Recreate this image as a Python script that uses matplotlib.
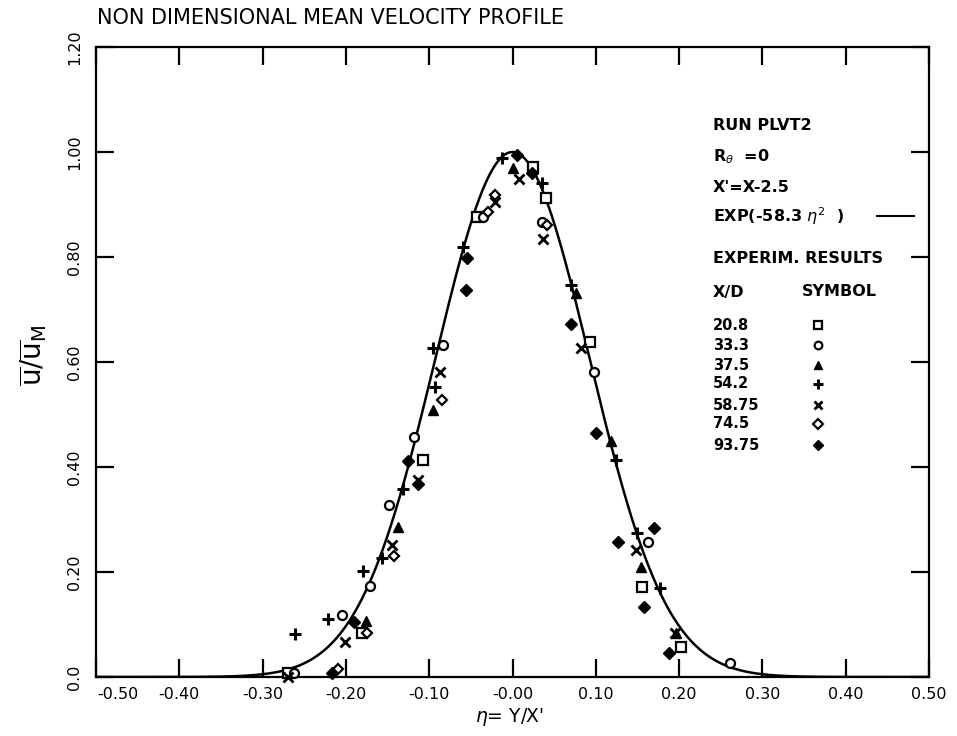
import numpy as np
import matplotlib
matplotlib.use("Agg")
import matplotlib.pyplot as plt
from matplotlib.lines import Line2D
from matplotlib.transforms import ScaledTranslation

# ---------------- data ----------------
title = "NON DIMENSIONAL MEAN VELOCITY PROFILE"
x_ticks = [-0.5, -0.4, -0.3, -0.2, -0.1, 0.0, 0.1, 0.2, 0.3, 0.4, 0.5]
x_ticklabels = ["-0.50", "-0.40", "-0.30", "-0.20", "-0.10", "-0.00",
                "0.10", "0.20", "0.30", "0.40", "0.50"]
y_ticks = [0.0, 0.2, 0.4, 0.6, 0.8, 1.0, 1.2]
y_ticklabels = ["0.0", "0.20", "0.40", "0.60", "0.80", "1.00", "1.20"]
gauss_coeff = 58.3

eta_208 = [-0.269, -0.181, -0.107, -0.043, 0.025, 0.040, 0.093, 0.155, 0.202]
u_208 = [0.008, 0.084, 0.413, 0.876, 0.971, 0.912, 0.638, 0.171, 0.057]

eta_333 = [-0.262, -0.205, -0.171, -0.148, -0.118, -0.083, -0.036, 0.035, 0.098, 0.163, 0.261]
u_333 = [0.008, 0.118, 0.173, 0.328, 0.457, 0.632, 0.876, 0.867, 0.581, 0.257, 0.027]

eta_375 = [-0.176, -0.138, -0.095, 0.000, 0.076, 0.118, 0.154, 0.196]
u_375 = [0.107, 0.286, 0.509, 0.970, 0.731, 0.450, 0.210, 0.084]

eta_542 = [-0.261, -0.221, -0.180, -0.157, -0.132, -0.093, -0.095, -0.060, -0.013,
           0.035, 0.070, 0.124, 0.149, 0.177]
u_542 = [0.082, 0.110, 0.202, 0.227, 0.358, 0.552, 0.627, 0.819, 0.989,
         0.941, 0.747, 0.413, 0.274, 0.170]

eta_5875 = [-0.269, -0.201, -0.145, -0.113, -0.087, -0.021, 0.008, 0.037, 0.082, 0.148, 0.195]
u_5875 = [0.000, 0.067, 0.251, 0.375, 0.581, 0.905, 0.949, 0.834, 0.627, 0.242, 0.084]

eta_745 = [-0.210, -0.175, -0.142, -0.085, -0.030, -0.021, 0.042]
u_745 = [0.015, 0.084, 0.230, 0.528, 0.886, 0.918, 0.861]

eta_9375 = [-0.217, -0.190, -0.126, -0.114, -0.055, -0.056, 0.006, 0.024, 0.070,
            0.100, 0.127, 0.158, 0.170, 0.188]
u_9375 = [0.008, 0.105, 0.411, 0.368, 0.798, 0.737, 0.994, 0.960, 0.672,
          0.465, 0.257, 0.133, 0.284, 0.046]

series_labels = ["20.8", "33.3", "37.5", "54.2", "58.75", "74.5", "93.75"]

# ---------------- styles ----------------
W, H = 957, 736
styles = [
    dict(marker="s", ms=6.5, mfc="white", mec="black", mew=1.6),
    dict(marker="o", ms=6.5, mfc="white", mec="black", mew=1.6),
    dict(marker="^", ms=6.5, mfc="black", mec="black", mew=1.0),
    dict(marker="+", ms=9, mec="black", mew=2.2),
    dict(marker="x", ms=7, mec="black", mew=2.0),
    dict(marker="D", ms=5.5, mfc="white", mec="black", mew=1.6),
    dict(marker="D", ms=6.0, mfc="black", mec="black", mew=1.0),
]
data = [(eta_208, u_208), (eta_333, u_333), (eta_375, u_375), (eta_542, u_542),
        (eta_5875, u_5875), (eta_745, u_745), (eta_9375, u_9375)]

fig = plt.figure(figsize=(W / 100, H / 100), dpi=100)
ax = fig.add_axes([96 / W, 1 - 677 / H, (929 - 96) / W, (677 - 47) / H])

eta = np.linspace(-0.5, 0.5, 801)
ax.plot(eta, np.exp(-gauss_coeff * eta ** 2), color="black", lw=1.8, zorder=2)

for (ex, uy), st in zip(data, styles):
    ax.plot(ex, uy, linestyle="none", zorder=3, clip_on=False, **st)

ax.set_xlim(-0.5, 0.5)
ax.set_ylim(0.0, 1.2)
ax.set_xticks(x_ticks)
ax.set_xticklabels(x_ticklabels, fontsize=11.5)
ax.set_yticks(y_ticks)
ax.set_yticklabels(y_ticklabels, fontsize=11.5, rotation=90, va="center")
ax.tick_params(direction="in", length=13, width=1.6, top=True, right=True,
               color="black")
ax.tick_params(axis="x", pad=7)
ax.tick_params(axis="y", pad=10)
for sp in ax.spines.values():
    sp.set_linewidth(1.6)

# shift the -0.50 label slightly right as in original
lab0 = ax.get_xticklabels()[0]
lab0.set_transform(lab0.get_transform() + ScaledTranslation(22 / 100, 0, fig.dpi_scale_trans))

# title and axis labels
fig.text(97 / W, 1 - 18 / H, title, fontsize=15, ha="left", va="center")
fig.text(510 / W, 1 - 717 / H, r"$\eta$= Y/X'", fontsize=13.5, ha="center", va="center")
fig.text(33 / W, 1 - 355 / H, r"$\overline{\mathrm{u}}/\overline{\mathrm{u}}_{\mathrm{M}}$",
         fontsize=20, rotation=90, ha="center", va="center")

# annotation block
tx = 713
kw = dict(fontsize=11.5, fontweight="bold", ha="left", va="center")
fig.text(tx / W, 1 - 126 / H, "RUN PLVT2", **kw)
fig.text(tx / W, 1 - 157 / H, r"R$_\theta$  =0", **kw)
fig.text(tx / W, 1 - 187 / H, "X'=X-2.5", **kw)
fig.text(tx / W, 1 - 216 / H, r"EXP(-58.3 $\eta^2$  )", **kw)
fig.add_artist(Line2D([877 / W, 914 / W], [1 - 216 / H, 1 - 216 / H],
                      transform=fig.transFigure, color="black", lw=1.5))
fig.text(tx / W, 1 - 258 / H, "EXPERIM. RESULTS", **kw)
fig.text(tx / W, 1 - 292 / H, "X/D", **kw)
fig.text(802 / W, 1 - 292 / H, "SYMBOL", **kw)

row_y = [325, 345, 365, 384, 405, 424, 445]
kw2 = dict(fontsize=10.5, fontweight="bold", ha="left", va="center")
for lab, ry, st in zip(series_labels, row_y, styles):
    fig.text(tx / W, 1 - ry / H, lab, **kw2)
    s2 = dict(st)
    s2["ms"] = st["ms"] * 0.85
    fig.add_artist(Line2D([818 / W], [1 - ry / H], transform=fig.transFigure,
                          linestyle="none", **s2))

fig.savefig("out.png", dpi=100)
